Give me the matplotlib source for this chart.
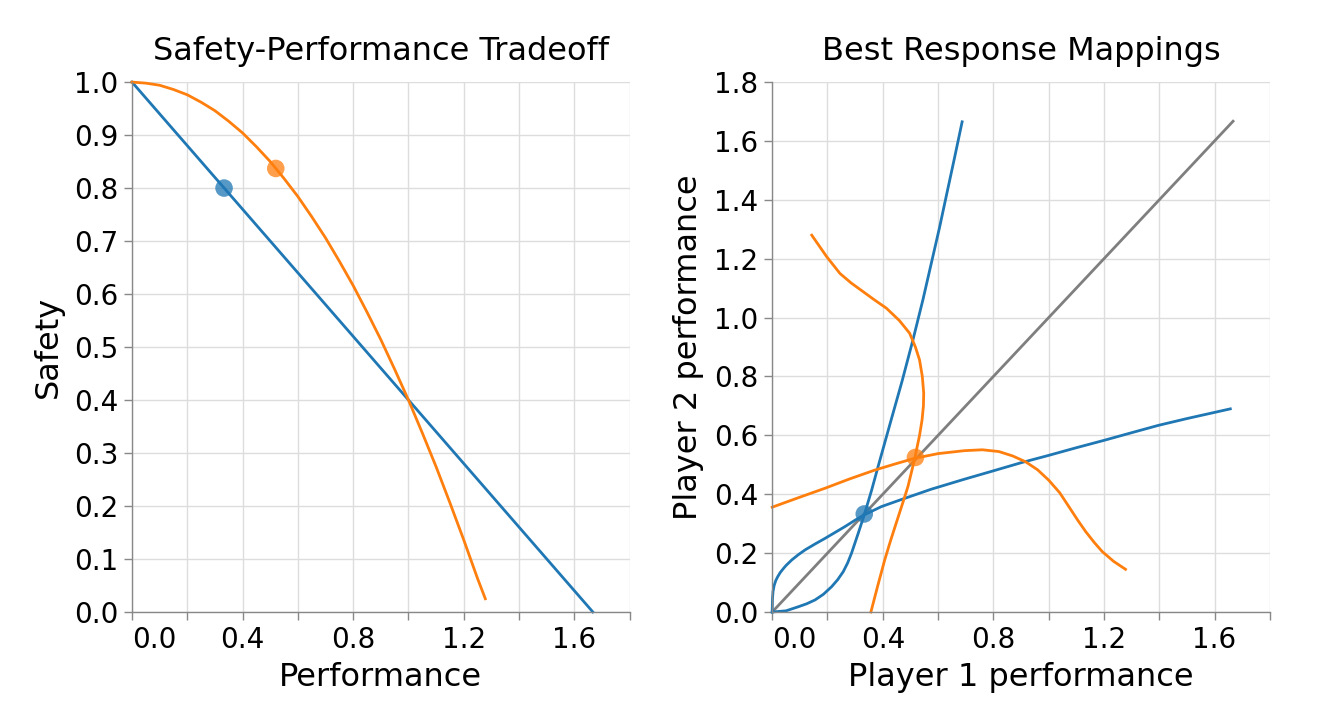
import numpy as np
import matplotlib
matplotlib.use("Agg")
import matplotlib.pyplot as plt

plt.rcParams['font.family'] = ['DejaVu Sans']

BLUE = "#1f77b4"
ORANGE = "#ff7f0e"
GREY = "#7f7f7f"

# left panel: safety vs performance
lin_perf = [0.0, 1.667]
lin_safety = [1.0, 0.0]
quad_perf = [0.0, 0.05, 0.1, 0.15, 0.2, 0.25, 0.3, 0.35, 0.4, 0.45, 0.5, 0.55, 0.6, 0.65,
             0.7, 0.75, 0.8, 0.85, 0.9, 0.95, 1.0, 1.05, 1.1, 1.15, 1.2, 1.25, 1.278]
quad_safety = [1.0, 0.998, 0.994, 0.986, 0.976, 0.962, 0.946, 0.926, 0.904, 0.878, 0.85, 0.818,
               0.784, 0.746, 0.706, 0.662, 0.616, 0.566, 0.514, 0.458, 0.4, 0.338, 0.274, 0.206,
               0.136, 0.063, 0.025]
eq_perf = [0.333, 0.52]
eq_safety = [0.8, 0.837]

# right panel: best responses
# blue, player 2 response to player 1
br1_blue_x = [0.0, 0.001, 0.003, 0.007, 0.013, 0.02, 0.029, 0.04, 0.05, 0.071, 0.095, 0.119,
              0.155, 0.191, 0.227, 0.263, 0.3, 0.333, 0.395, 0.461, 0.575, 0.695, 0.798, 0.9,
              1.0, 1.1, 1.2, 1.3, 1.397, 1.5, 1.6, 1.657]
br1_blue_y = [0.0, 0.045, 0.07, 0.09, 0.107, 0.12, 0.134, 0.147, 0.158, 0.177, 0.195, 0.211,
              0.231, 0.25, 0.27, 0.29, 0.312, 0.33, 0.358, 0.38, 0.417, 0.451, 0.479, 0.507,
              0.532, 0.558, 0.583, 0.609, 0.634, 0.657, 0.678, 0.69]
# blue, player 1 response to player 2
br2_blue_x = [0.0, 0.05, 0.095, 0.125, 0.155, 0.185, 0.215, 0.237, 0.257, 0.273, 0.287, 0.311,
              0.333, 0.36, 0.383, 0.431, 0.47, 0.509, 0.545, 0.581, 0.605, 0.629, 0.66, 0.687]
br2_blue_y = [0.0, 0.004, 0.018, 0.028, 0.041, 0.06, 0.086, 0.11, 0.137, 0.167, 0.2, 0.267,
              0.33, 0.415, 0.494, 0.655, 0.785, 0.924, 1.06, 1.207, 1.305, 1.41, 1.545, 1.665]
# orange, player 2 response to player 1
br1_orange_x = [0.0, 0.1, 0.19, 0.28, 0.371, 0.445, 0.515, 0.6, 0.695, 0.76, 0.82, 0.87, 0.917,
                0.96, 1.0, 1.04, 1.073, 1.105, 1.134, 1.165, 1.194, 1.235, 1.278]
br1_orange_y = [0.356, 0.39, 0.42, 0.452, 0.482, 0.503, 0.522, 0.538, 0.548, 0.551, 0.545, 0.53,
                0.51, 0.483, 0.448, 0.405, 0.358, 0.312, 0.273, 0.236, 0.205, 0.172, 0.145]
# orange, player 1 response to player 2
br2_orange_x = [0.357, 0.382, 0.407, 0.429, 0.452, 0.472, 0.491, 0.505, 0.517, 0.533, 0.542,
                0.547, 0.548, 0.543, 0.533, 0.518, 0.497, 0.46, 0.413, 0.37, 0.329, 0.285,
                0.245, 0.197, 0.143]
br2_orange_y = [0.0, 0.09, 0.177, 0.245, 0.312, 0.37, 0.426, 0.48, 0.528, 0.6, 0.652, 0.7,
                0.744, 0.8, 0.856, 0.9, 0.947, 0.99, 1.032, 1.06, 1.088, 1.118, 1.15, 1.207, 1.28]
diag = [0.0, 1.667]
nash_x = [0.333, 0.518]
nash_y = [0.333, 0.525]

xticks = np.round(np.arange(0, 1.81, 0.2), 1)
xlabels = ["%.1f" % t if i % 2 == 0 else "" for i, t in enumerate(xticks)]


def style_axes(ax, yticks, ymax, title, xlabel, ylabel):
    ax.set_xlim(0, 1.8)
    ax.set_ylim(0, ymax)
    ax.set_xticks(xticks)
    ax.set_xticklabels(xlabels)
    ax.set_yticks(yticks)
    ax.set_yticklabels(["%.1f" % t for t in yticks])
    ax.grid(True, color="#dddddd", linewidth=1.0)
    ax.set_axisbelow(True)
    for s in ["top", "right"]:
        ax.spines[s].set_visible(False)
    for s in ["left", "bottom"]:
        ax.spines[s].set_color("#888888")
        ax.spines[s].set_linewidth(1.0)
    ax.tick_params(length=6, width=1.0, color="#888888", labelsize=20, pad=4)
    ax.get_xticklabels()[0].set_horizontalalignment("left")
    ax.set_title(title, fontsize=23, pad=16)
    ax.set_xlabel(xlabel, fontsize=23, labelpad=6)
    ax.set_ylabel(ylabel, fontsize=23, labelpad=7)


fig = plt.figure(figsize=(13.2, 7.2), dpi=100)
ax1 = fig.add_axes([0.1, 0.15, 0.377, 0.736])
ax2 = fig.add_axes([0.585, 0.15, 0.377, 0.736])

ax1.plot(lin_perf, lin_safety, color=BLUE, lw=2.0, clip_on=False)
ax1.plot(quad_perf, quad_safety, color=ORANGE, lw=2.0, clip_on=False)
ax1.scatter(eq_perf, eq_safety, s=160, c=[BLUE, ORANGE], alpha=0.75, zorder=3, linewidths=0)
style_axes(ax1, np.round(np.arange(0, 1.01, 0.1), 1), 1.0,
           "Safety-Performance Tradeoff", "Performance", "Safety")

ax2.plot(diag, diag, color=GREY, lw=2.0)
ax2.plot(br1_blue_x, br1_blue_y, color=BLUE, lw=2.0, clip_on=False)
ax2.plot(br2_blue_x, br2_blue_y, color=BLUE, lw=2.0, clip_on=False)
ax2.plot(br1_orange_x, br1_orange_y, color=ORANGE, lw=2.0, clip_on=False)
ax2.plot(br2_orange_x, br2_orange_y, color=ORANGE, lw=2.0, clip_on=False)
ax2.scatter(nash_x, nash_y, s=160, c=[BLUE, ORANGE], alpha=0.75, zorder=3, linewidths=0)
style_axes(ax2, np.round(np.arange(0, 1.81, 0.2), 1), 1.8,
           "Best Response Mappings", "Player 1 performance", "Player 2 performance")

fig.savefig("out.png", dpi=100)
